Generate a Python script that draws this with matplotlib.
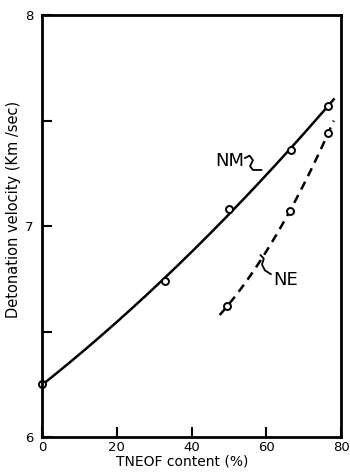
import matplotlib
matplotlib.use("Agg")
import matplotlib.pyplot as plt
import numpy as np

# TNEOF content (%) vs detonation velocity (km/s)
nm_content = [0, 33, 50, 66.5, 76.5]
nm_velocity = [6.25, 6.74, 7.08, 7.36, 7.57]

ne_content = [49.5, 66.2, 76.5]
ne_velocity = [6.62, 7.07, 7.44]

x_ticks = [0, 20, 40, 60, 80]
y_ticks = [6, 7, 8]

plt.rcParams['font.family'] = ['DejaVu Sans']

fig = plt.figure(figsize=(3.5, 4.72), dpi=100)
ax = fig.add_axes([0.12, 0.074, 0.855, 0.894])

# smooth curves through the measured points
c = np.polyfit(nm_content, nm_velocity, 2)
xs = np.linspace(0, 78, 200)
ax.plot(xs, np.polyval(c, xs), color='black', lw=1.8)

c2 = np.polyfit(ne_content, ne_velocity, 2)
xs2 = np.linspace(47.5, 78, 100)
ax.plot(xs2, np.polyval(c2, xs2), color='black', lw=1.8, ls=(0, (3.5, 2.5)))

ax.plot(nm_content, nm_velocity, 'o', mfc='white', mec='black', mew=1.4, ms=5, clip_on=False)
ax.plot(ne_content, ne_velocity, 'o', mfc='white', mec='black', mew=1.4, ms=5, clip_on=False)

# curve labels with squiggly leaders
ax.text(46.3, 7.31, 'NM', fontsize=13, ha='left', va='center')
lx = [54.2, 55.5, 56.4, 55.6, 56.4, 58.7]
ly = [7.322, 7.334, 7.312, 7.284, 7.266, 7.266]
ax.plot(lx, ly, color='black', lw=1.3, solid_capstyle='round', solid_joinstyle='round')
ax.text(61.8, 6.745, 'NE', fontsize=13, ha='left', va='center')
lx2 = [58.4, 59.3, 58.8, 59.6, 61.2]
ly2 = [6.863, 6.846, 6.818, 6.790, 6.772]
ax.plot(lx2, ly2, color='black', lw=1.3, solid_capstyle='round', solid_joinstyle='round')

ax.set_xlim(0, 80)
ax.set_ylim(6, 8)
ax.set_xticks(x_ticks)
ax.set_yticks(y_ticks)
ax.set_yticks([6.5, 7.5], minor=True)
ax.tick_params(direction='in', length=7, width=1.5, labelsize=9.5)
ax.tick_params(which='minor', direction='in', length=7, width=1.5)
ax.tick_params(axis='y', pad=6)
ax.tick_params(axis='x', pad=3)
for s in ax.spines.values():
    s.set_linewidth(2)

ax.set_xlabel('TNEOF content (%)', fontsize=10)
ax.set_ylabel('Detonation velocity (Km /sec)', fontsize=10.5)
ax.xaxis.set_label_coords(0.47, -0.042)
ax.yaxis.set_label_coords(-0.07, 0.54)

fig.savefig('out.png', dpi=100)
